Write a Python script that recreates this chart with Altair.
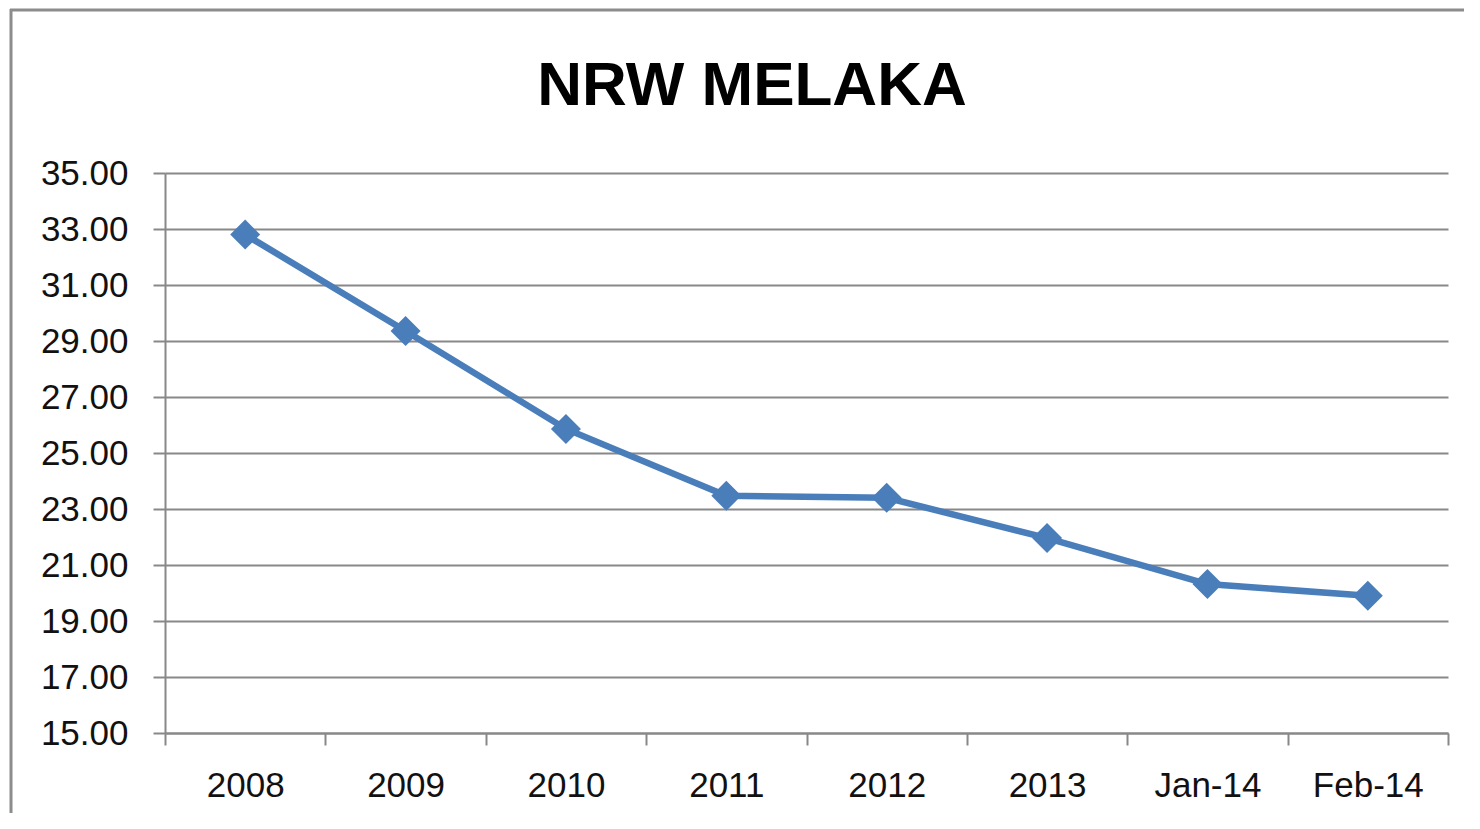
import altair as alt
import pandas as pd

TITLE = "NRW MELAKA"
categories = ["2008", "2009", "2010", "2011", "2012", "2013", "Jan-14", "Feb-14"]
values = [32.80, 29.36, 25.86, 23.47, 23.40, 21.96, 20.32, 19.90]
y_ticks = [15, 17, 19, 21, 23, 25, 27, 29, 31, 33, 35]

df = pd.DataFrame({"period": categories, "nrw": values})
one = pd.DataFrame({"k": [0]})

FONT = "Liberation Sans"
GRID = "#888888"
BLUE = "#4A7EBB"

x_enc = alt.X(
    "period:N",
    sort=categories,
    scale=alt.Scale(paddingInner=0, paddingOuter=0),
    axis=alt.Axis(
        title=None, labelAngle=0, labelFont=FONT, labelFontSize=35, labelColor="#111111",
        labelPadding=23, tickBand="extent", tickSize=12, tickColor=GRID, tickWidth=2,
        domainColor=GRID, domainWidth=2, grid=False,
    ),
)
y_enc = alt.Y(
    "nrw:Q",
    scale=alt.Scale(domain=[15, 35], nice=False, zero=False),
    axis=alt.Axis(
        title=None, values=y_ticks, format=".2f", labelFont=FONT, labelFontSize=35,
        labelColor="#111111", labelPadding=25, tickSize=12, tickColor=GRID, tickWidth=2,
        domainColor=GRID, domainWidth=2, grid=True, gridColor=GRID, gridWidth=2,
    ),
)

line = alt.Chart(df).mark_line(color=BLUE, strokeWidth=6.5).encode(x=x_enc, y=y_enc)
pts = alt.Chart(df).mark_point(
    shape="diamond", filled=True, size=900, color=BLUE, opacity=1
).encode(x=alt.X("period:N", sort=categories), y="nrw:Q")

title = alt.Chart(one).mark_text(
    font=FONT, fontSize=62, fontWeight="bold", color="#000000", align="center", baseline="alphabetic"
).encode(x=alt.value(587), y=alt.value(-68), text=alt.value(TITLE))

border_left = alt.Chart(one).mark_rule(color="#8c8c8c", strokeWidth=3).encode(
    x=alt.value(-154), y=alt.value(-164), y2=alt.value(660)
)
border_top = alt.Chart(one).mark_rule(color="#8c8c8c", strokeWidth=3).encode(
    x=alt.value(-155), x2=alt.value(1400), y=alt.value(-163)
)

chart = (
    alt.layer(line, pts, title, border_left, border_top)
    .properties(
        width=1283, height=560,
        padding={"left": 157, "top": 165, "right": 16, "bottom": 80},
        autosize=alt.AutoSizeParams(type="none"),
        background="white",
    )
    .configure_view(stroke=None)
)

chart.save("out.html", embed_options={"renderer": "svg", "actions": False})
